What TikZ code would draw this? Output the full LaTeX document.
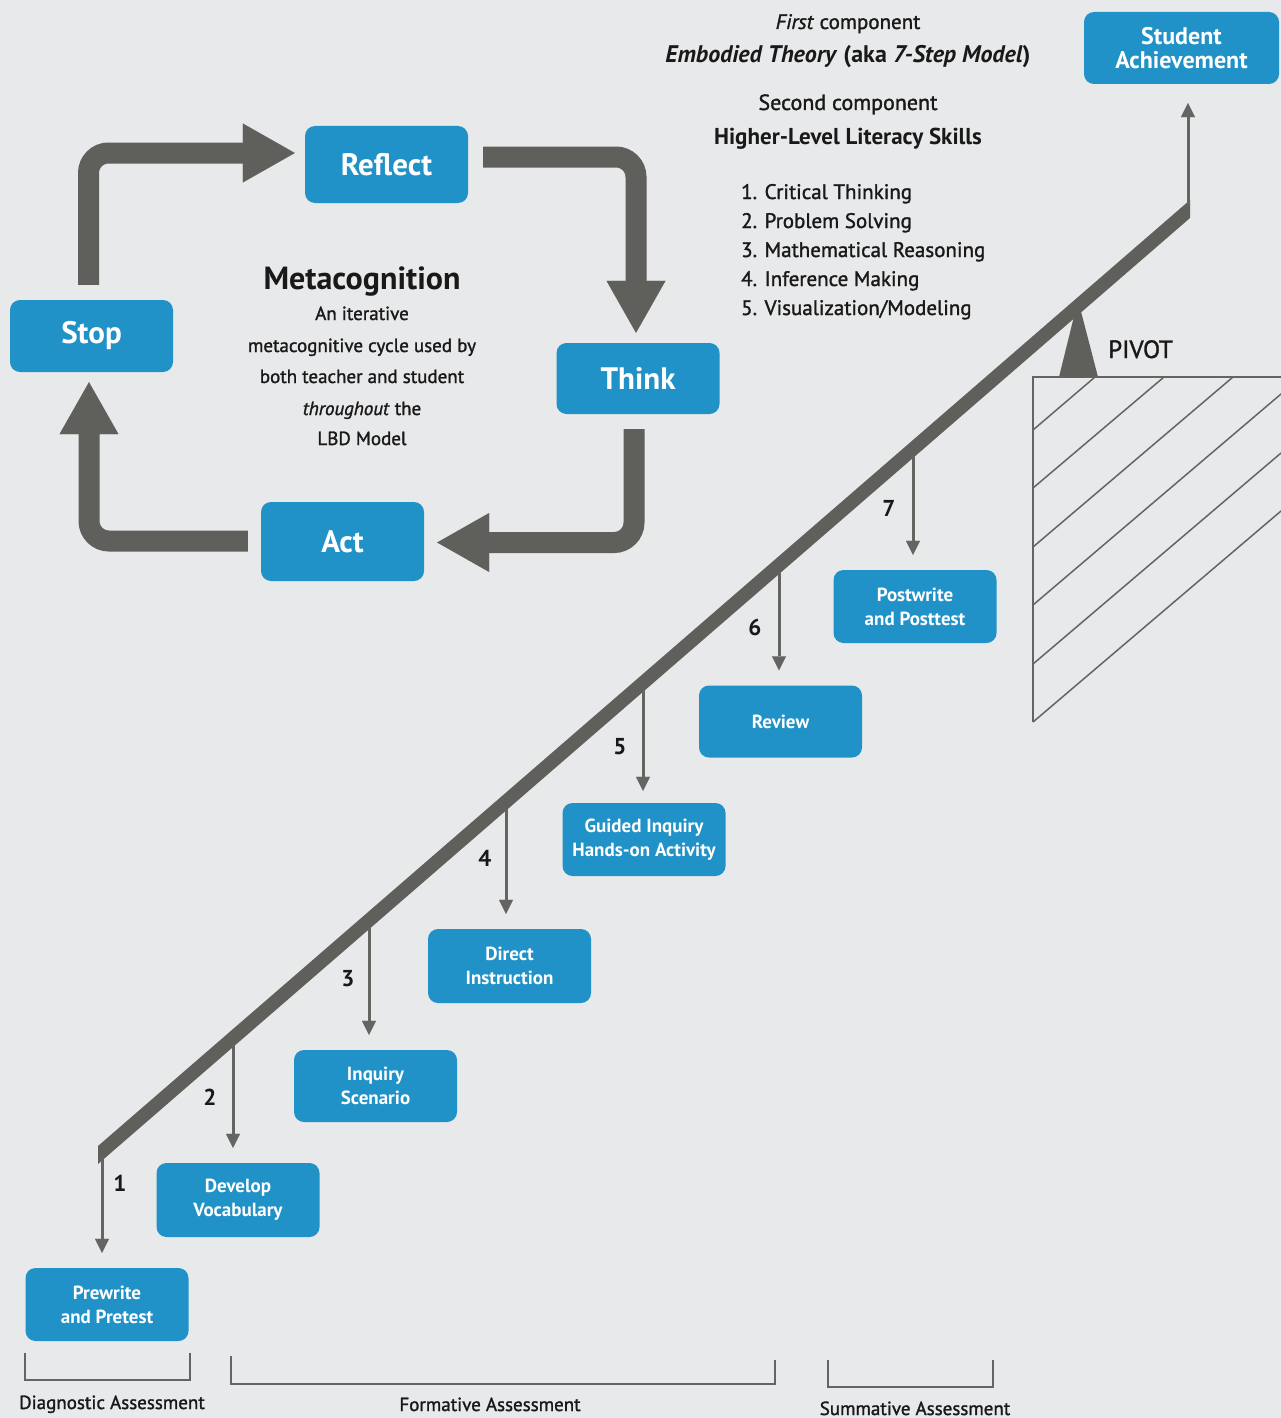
\documentclass[tikz,border=0pt]{standalone}
\usepackage{fontspec}
\setmainfont{PT Sans}
\newfontfamily\medf[FakeBold=1.4]{PT Sans}
\usetikzlibrary{arrows.meta,calc}
\definecolor{bg}{RGB}{232,233,234}
\definecolor{boxblue}{RGB}{33,146,199}
\definecolor{beamgray}{RGB}{95,96,91}
\definecolor{txt}{RGB}{25,25,25}
\definecolor{thin}{RGB}{100,100,98}
\begin{document}
\begin{tikzpicture}[x=1pt,y=-1pt,
  bx/.style={fill=boxblue, rounded corners=10pt, text=white, align=center, inner sep=0pt,
    minimum width=163pt, minimum height=73pt, font=\bfseries\fontsize{19}{24}\selectfont},
  bigbx/.style={bx, font=\bfseries\fontsize{31}{34}\selectfont},
  cyc/.style={draw=beamgray, line width=21pt, rounded corners=20pt,
    -{Triangle[width=59pt,length=52pt,line width=0.01pt]}},
  drop/.style={draw=thin, line width=3pt, shorten >=15pt,
    -{Triangle[width=14pt,length=14pt,line width=0.01pt]}},
  lbl/.style={text=txt, inner sep=0pt, anchor=base},
  num/.style={lbl, font=\bfseries\fontsize{23}{26}\selectfont},
  hatch/.style={draw=thin, line width=1.5pt},
  brk/.style={draw=thin, line width=1.5pt},
]
\fill[bg] (0,0) rectangle (1281,1418);
\useasboundingbox (0,0) rectangle (1281,1418);

% ---------- metacognition cycle ----------
\node[bigbx, minimum height=77pt] (reflect) at (386.5,164.5) {Reflect};
\node[bigbx, minimum height=71pt] (think) at (638,378.5) {Think};
\node[bigbx, minimum height=79pt] (act) at (342.5,541.5) {Act};
\node[bigbx, minimum height=72pt] (stop) at (91.5,336) {Stop};

\draw[cyc] ([shift={(-3,-15)}]stop.north) |- ([shift={(-10,-11.5)}]reflect.west);
\draw[cyc] ([shift={(15,-7.5)}]reflect.east) -| ([shift={(-2,-10)}]think.north);
\draw[cyc] ([shift={(-4,15)}]think.south) |- ([shift={(13,1)}]act.east);
\draw[cyc] ([shift={(-13,-0.5)}]act.west) -| ([shift={(-2.5,10)}]stop.south);

\node[lbl, font=\bfseries\fontsize{32}{34}\selectfont] (meta) at (362,289) {Metacognition};
\node[lbl, font=\medf\fontsize{19}{22}\selectfont] (m1) at (362,320) {An iterative};
\node[lbl, font=\medf\fontsize{19}{22}\selectfont] (m2) at (362,352) {metacognitive cycle used by};
\node[lbl, font=\medf\fontsize{19}{22}\selectfont] (m3) at (362,383) {both teacher and student};
\node[lbl, font=\medf\fontsize{19}{22}\selectfont] (m4) at (362,415) {\textit{throughout} the};
\node[lbl, font=\medf\fontsize{19}{22}\selectfont] (m5) at (362,445) {LBD Model};

% ---------- header texts ----------
\node[lbl, font=\medf\fontsize{21}{24}\selectfont] (first) at (848,29) {\textit{First} component};
\node[lbl, font=\bfseries\fontsize{24}{28}\selectfont] (embodied) at (848,63) {\textit{Embodied Theory} (aka \textit{7-Step Model})};
\node[lbl, font=\medf\fontsize{22}{24}\selectfont] (second) at (848,110) {Second component};
\node[lbl, font=\bfseries\fontsize{23}{26}\selectfont] (higher) at (848,144) {Higher-Level Literacy Skills};
\node[lbl, anchor=base west, font=\medf\fontsize{21}{24}\selectfont] (s1) at (741,199) {1. Critical Thinking};
\node[lbl, anchor=base west, font=\medf\fontsize{21}{24}\selectfont] (s2) at (741,228) {2. Problem Solving};
\node[lbl, anchor=base west, font=\medf\fontsize{21}{24}\selectfont] (s3) at (741,257) {3. Mathematical Reasoning};
\node[lbl, anchor=base west, font=\medf\fontsize{21}{24}\selectfont] (s4) at (741,286) {4. Inference Making};
\node[lbl, anchor=base west, font=\medf\fontsize{21}{24}\selectfont] (s5) at (741,315) {5. Visualization/Modeling};

% ---------- hatched base and pivot ----------
\draw[hatch] (1033,722) -- (1033,377) -- (1281,377);
\draw[hatch] (1033,430) -- (1095,377);
\draw[hatch] (1033,488) -- (1164,377);
\draw[hatch] (1033,547) -- (1233,377);
\draw[hatch] (1033,605) -- (1281,394);
\draw[hatch] (1033,664) -- (1281,453);
\draw[hatch] (1033,722) -- (1281,511);
\fill[beamgray] (1078,300) -- (1098,377) -- (1059,377) -- cycle;
\node[lbl, anchor=base west, font=\medf\fontsize{25}{28}\selectfont] (pivot) at (1108,358) {PIVOT};

% ---------- beam ----------
\fill[beamgray] (98,1146) -- (1190,200) -- (1190,218) -- (98,1164) -- cycle;
\coordinate (b1) at (102,1158);
\coordinate (b2) at (233,1045);
\coordinate (b3) at (369,927);
\coordinate (b4) at (506,809);
\coordinate (b5) at (643,690);
\coordinate (b6) at (779,572);
\coordinate (b7) at (913,456);
\coordinate (bR) at (1188,204);

% ---------- step boxes ----------
\node[bx, minimum width=195pt, minimum height=72pt, font=\bfseries\fontsize{24}{24}\selectfont] (sa) at (1181.5,48) {Student\\Achievement};
\node[bx, minimum height=73pt] (post) at (915,606.5) {Postwrite\\and Posttest};
\node[bx, minimum height=72pt] (review) at (780.5,721.5) {Review};
\node[bx, minimum height=73pt] (guided) at (644,839.5) {Guided Inquiry\\Hands-on Activity};
\node[bx, minimum height=74pt] (direct) at (509.5,966) {Direct\\Instruction};
\node[bx, minimum height=72pt] (inquiry) at (375.5,1086) {Inquiry\\Scenario};
\node[bx, minimum height=74pt] (develop) at (238,1200) {Develop\\Vocabulary};
\node[bx, minimum height=73pt] (pre) at (107,1304.5) {Prewrite\\and Pretest};

\draw[drop] (b1) -- (b1 |- pre.north);
\draw[drop] (b2) -- (b2 |- develop.north);
\draw[drop] (b3) -- (b3 |- inquiry.north);
\draw[drop] (b4) -- (b4 |- direct.north);
\draw[drop, shorten >=12pt] (b5) -- (b5 |- guided.north);
\draw[drop] (b6) -- (b6 |- review.north);
\draw[drop] (b7) -- (b7 |- post.north);
\draw[drop, shorten >=19pt] (bR) -- (bR |- sa.south);

\node[num] (n1) at (120,1191) {1};
\node[num] (n2) at (210,1105) {2};
\node[num] (n3) at (348,986) {3};
\node[num] (n4) at (485,866) {4};
\node[num] (n5) at (620,754) {5};
\node[num] (n6) at (755,635) {6};
\node[num] (n7) at (889,516) {7};

% ---------- assessment brackets ----------
\draw[brk] (25,1353) -- (25,1380) -- (190,1380) -- (190,1353);
\draw[brk] (231,1356) -- (231,1384) -- (775,1384) -- (775,1360);
\draw[brk] (828,1360) -- (828,1387) -- (993,1387) -- (993,1360);
\node[lbl, font=\medf\fontsize{19}{22}\selectfont] (diag) at (112,1409) {Diagnostic Assessment};
\node[lbl, font=\medf\fontsize{19}{22}\selectfont] (form) at (490,1411) {Formative Assessment};
\node[lbl, font=\medf\fontsize{19}{22}\selectfont] (summ) at (915,1415) {Summative Assessment};
\end{tikzpicture}
\end{document}
